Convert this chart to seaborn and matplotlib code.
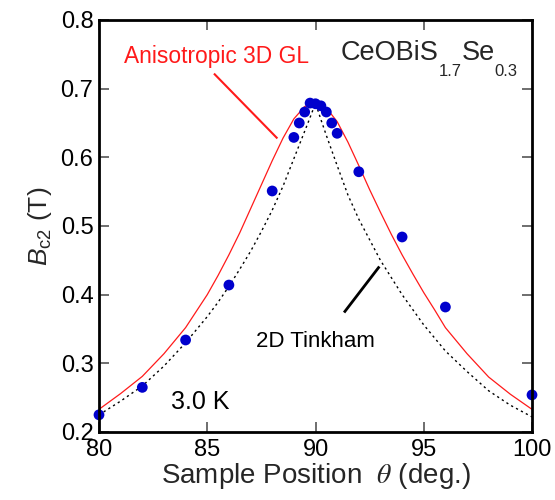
import matplotlib
matplotlib.use("Agg")
import matplotlib.pyplot as plt
from matplotlib.transforms import offset_copy
import seaborn as sns
import pandas as pd

# ---- data ----
theta_pts = [80, 82, 84, 86, 88, 89, 89.25, 89.5, 89.75, 90, 90.25, 90.5, 90.75, 91, 92, 94, 96, 100]
bc2_pts = [0.225, 0.265, 0.334, 0.414, 0.551, 0.629, 0.650, 0.666, 0.679, 0.678, 0.675, 0.666,
           0.650, 0.635, 0.579, 0.484, 0.382, 0.254]

# Anisotropic 3D GL curve (red)
gl_theta = [80, 81, 82, 83, 84, 85, 85.5, 86, 86.5, 87, 87.5, 88, 88.5, 89, 89.5, 90,
            90.5, 91, 91.5, 92, 92.5, 93, 93.5, 94, 94.5, 95, 95.5, 96, 97, 98, 99, 100]
gl_bc2 = [0.233, 0.256, 0.281, 0.314, 0.352, 0.400, 0.428, 0.458, 0.490, 0.525, 0.560, 0.595,
          0.628, 0.656, 0.674, 0.680, 0.672, 0.652, 0.622, 0.588, 0.553, 0.520, 0.488, 0.458,
          0.430, 0.403, 0.378, 0.352, 0.314, 0.280, 0.255, 0.233]

# 2D Tinkham curve (black dotted)
tk_theta = [80, 81, 82, 83, 84, 85, 85.5, 86, 86.5, 87, 87.5, 88, 88.5, 89, 89.5, 89.75, 90,
            90.25, 90.5, 91, 91.5, 92, 92.5, 93, 94, 95, 96, 97, 98, 99, 100]
tk_bc2 = [0.225, 0.245, 0.267, 0.296, 0.330, 0.368, 0.389, 0.412, 0.437, 0.463, 0.492, 0.523,
          0.558, 0.598, 0.638, 0.658, 0.679, 0.655, 0.632, 0.588, 0.545, 0.510, 0.480, 0.450,
          0.400, 0.356, 0.318, 0.288, 0.260, 0.239, 0.222]

x_ticks = [80, 85, 90, 95, 100]
x_ticklabels = ["80", "85", "90", "95", "100"]
y_ticks = [0.2, 0.3, 0.4, 0.5, 0.6, 0.7, 0.8]
y_ticklabels = ["0.2", "0.3", "0.4", "0.5", "0.6", "0.7", "0.8"]

# ---- style ----
sns.set_theme(style="ticks")
plt.rcParams["font.family"] = ["Liberation Sans", "DejaVu Sans"]
plt.rcParams["mathtext.fontset"] = "custom"
plt.rcParams["mathtext.rm"] = "Liberation Sans"
plt.rcParams["mathtext.it"] = "Liberation Sans:italic"

fig = plt.figure(figsize=(5.55, 5.0), dpi=100)
ax = fig.add_axes([99 / 555, 68 / 500, 433 / 555, 412 / 500])
ax.set_axisbelow(False)

df_pts = pd.DataFrame({"theta": theta_pts, "bc2": bc2_pts})
df_gl = pd.DataFrame({"theta": gl_theta, "bc2": gl_bc2})
df_tk = pd.DataFrame({"theta": tk_theta, "bc2": tk_bc2})

sns.lineplot(data=df_gl, x="theta", y="bc2", sort=False, estimator=None, color="#ff1a1a",
             lw=0.9, ax=ax, zorder=2)
sns.lineplot(data=df_tk, x="theta", y="bc2", sort=False, estimator=None, color="black",
             lw=1.0, ax=ax, zorder=2)
ax.lines[-1].set_linestyle((0, (1.6, 2.4)))
sns.scatterplot(data=df_pts, x="theta", y="bc2", color="#0000cd", s=60, edgecolor="none",
                ax=ax, zorder=3, clip_on=False)

ax.set_xlim(80, 100)
ax.set_ylim(0.2, 0.8)
ax.set_xticks(x_ticks)
ax.set_xticklabels(x_ticklabels)
ax.set_yticks(y_ticks)
ax.set_yticklabels(y_ticklabels)

for sp in ax.spines.values():
    sp.set_color("black")
    sp.set_linewidth(2.0)
    sp.set_visible(True)
    sp.set_zorder(4)

ax.tick_params(axis="both", which="major", direction="in", length=7, width=1.2, color="#555555",
               labelsize=17, labelcolor="black", top=True, right=True, bottom=True, left=True,
               pad=5)
ax.tick_params(axis="y", pad=4)
ax.tick_params(which="minor", length=0)

ax.set_xlabel(r"Sample Position  $\theta$ (deg.)", fontsize=20, math_fontfamily="stix",
              labelpad=0)
ax.set_ylabel(r"$B_{\mathrm{c2}}$ (T)", fontsize=19, labelpad=5)

# annotations
ax.text(85.45, 0.737, "Anisotropic 3D GL", color="#ff1a1a", fontsize=16.4, ha="center",
        va="baseline")
ax.plot([85.31, 88.24], [0.722, 0.6275], color="#ff1a1a", lw=1.5, solid_capstyle="butt")
ax.text(90.02, 0.324, "2D Tinkham", color="black", fontsize=16, ha="center", va="baseline")
ax.plot([91.32, 92.95], [0.374, 0.441], color="black", lw=2.0, solid_capstyle="butt")
ax.text(84.67, 0.2335, "3.0 K", color="black", fontsize=18, ha="center", va="baseline")

# chemical formula with dropped subscripts
fig.canvas.draw()
renderer = fig.canvas.get_renderer()
pieces = [("CeOBiS", 19.5, 0), ("1.7", 12, -16), ("Se", 19.5, 0), ("0.3", 12, -16)]
dx = 0.0
for s, size, dy in pieces:
    tr = offset_copy(ax.transData, fig=fig, x=dx, y=dy, units="dots")
    t = ax.text(91.15, 0.7415, s, fontsize=size, ha="left", va="baseline", transform=tr)
    bb = t.get_window_extent(renderer)
    dx += bb.width

fig.savefig("out.png", dpi=100)
